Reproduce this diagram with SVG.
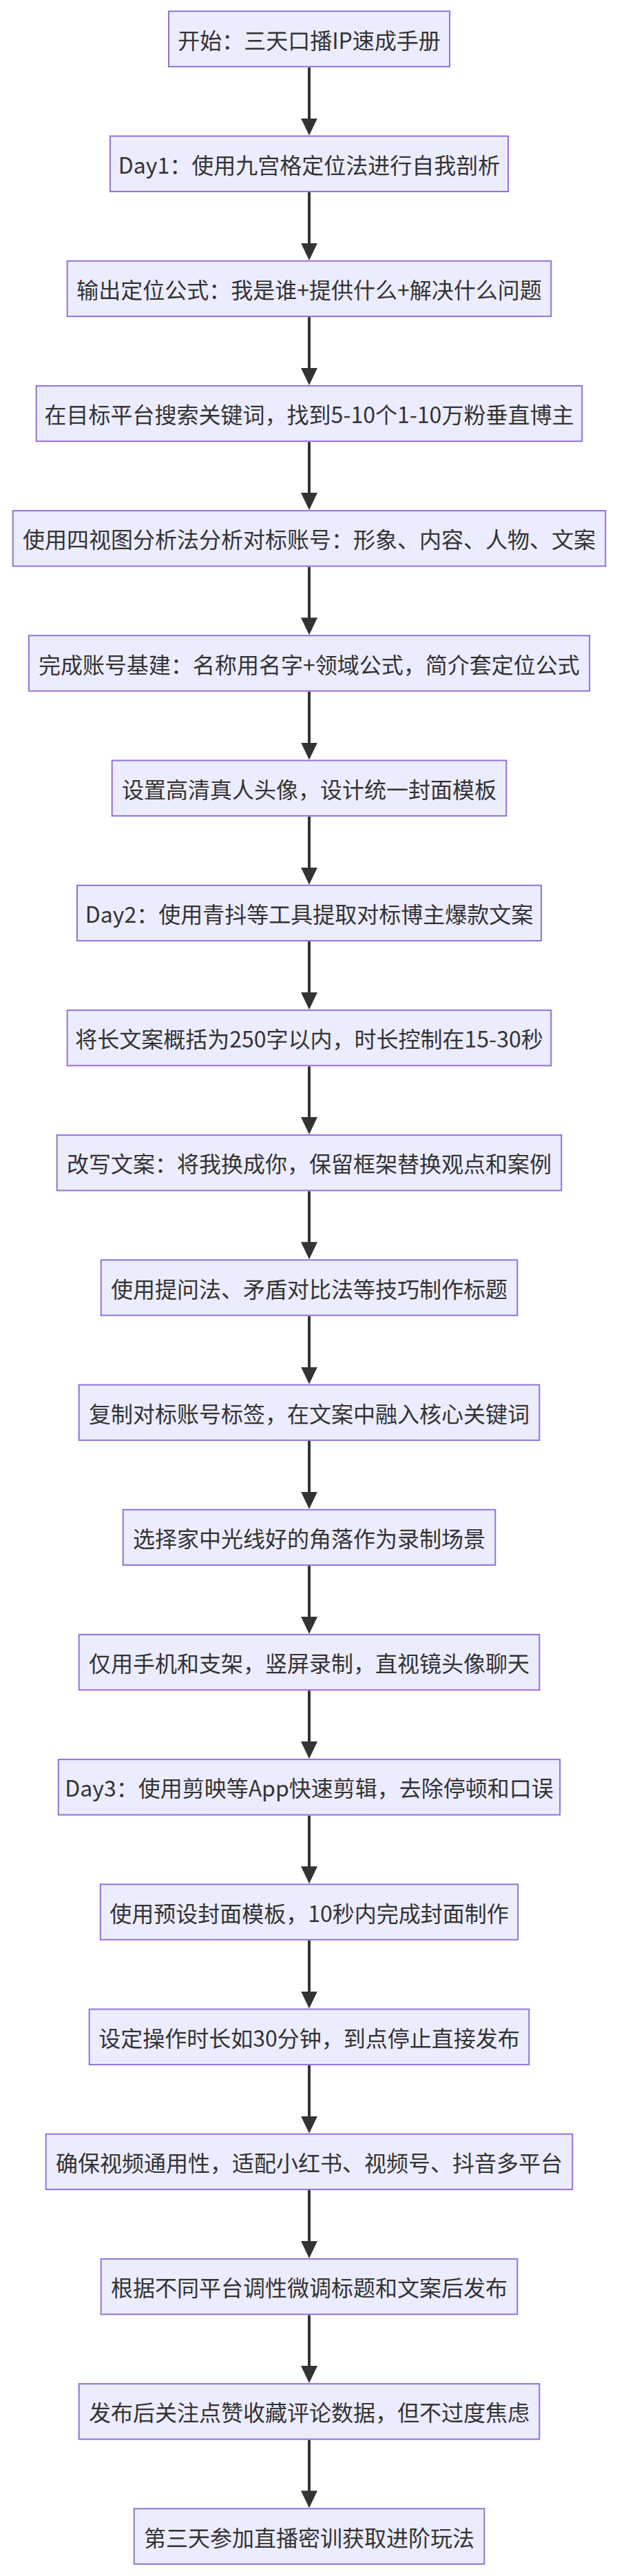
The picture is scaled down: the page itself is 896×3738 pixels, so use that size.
<svg xmlns="http://www.w3.org/2000/svg" width="896" height="3738" viewBox="0 0 896 3738">
<style>
.node rect{fill:#ECECFF;stroke:#9370DB;stroke-width:2}
.node text{font-family:"Noto Sans CJK SC","Noto Sans",sans-serif;font-size:32px;fill:#333333;text-anchor:middle;dominant-baseline:central}
.edges path{fill:none;stroke:#333333;stroke-width:4;marker-end:url(#arrow)}
</style>
<defs>
<marker id="arrow" markerUnits="userSpaceOnUse" viewBox="0 0 25 24" refX="17" refY="12" markerWidth="25" markerHeight="24" orient="auto">
<path d="M0,0 L25,12 L0,24 z" fill="#333333"/>
</marker>
</defs>
<rect width="896" height="3738" fill="#ffffff"/>
<g class="edges">
<path d="M449,97.7 V188.5"/>
<path d="M449,278.9 V369.7"/>
<path d="M449,460.1 V550.9"/>
<path d="M449,641.3 V732.1"/>
<path d="M449,822.5 V913.3"/>
<path d="M449,1003.7 V1094.5"/>
<path d="M449,1184.9 V1275.7"/>
<path d="M449,1366.1 V1456.9"/>
<path d="M449,1547.3 V1638.1"/>
<path d="M449,1728.5 V1819.3"/>
<path d="M449,1909.7 V2000.5"/>
<path d="M449,2090.9 V2181.7"/>
<path d="M449,2272.1 V2362.9"/>
<path d="M449,2453.3 V2544.1"/>
<path d="M449,2634.5 V2725.3"/>
<path d="M449,2815.7 V2906.5"/>
<path d="M449,2996.9 V3087.7"/>
<path d="M449,3178.1 V3268.9"/>
<path d="M449,3359.3 V3450.1"/>
<path d="M449,3540.5 V3631.3"/>
</g>
<g id="n1" class="node"><rect x="245" y="16.3" width="408" height="80.4"/><text x="449" y="56.5">开始：三天口播IP速成手册</text></g>
<g id="n2" class="node"><rect x="160" y="197.5" width="578" height="80.4"/><text x="449" y="237.7">Day1：使用九宫格定位法进行自我剖析</text></g>
<g id="n3" class="node"><rect x="97.7" y="378.7" width="702.6" height="80.4"/><text x="449" y="418.9">输出定位公式：我是谁+提供什么+解决什么问题</text></g>
<g id="n4" class="node"><rect x="52.7" y="559.9" width="792.6" height="80.4"/><text x="449" y="600.1">在目标平台搜索关键词，找到5-10个1-10万粉垂直博主</text></g>
<g id="n5" class="node"><rect x="18.7" y="741.1" width="860.6" height="80.4"/><text x="449" y="781.3">使用四视图分析法分析对标账号：形象、内容、人物、文案</text></g>
<g id="n6" class="node"><rect x="41.85" y="922.3" width="814.3" height="80.4"/><text x="449" y="962.5">完成账号基建：名称用名字+领域公式，简介套定位公式</text></g>
<g id="n7" class="node"><rect x="162.7" y="1103.5" width="572.6" height="80.4"/><text x="449" y="1143.7">设置高清真人头像，设计统一封面模板</text></g>
<g id="n8" class="node"><rect x="112" y="1284.7" width="674" height="80.4"/><text x="449" y="1324.9">Day2：使用青抖等工具提取对标博主爆款文案</text></g>
<g id="n9" class="node"><rect x="97.7" y="1465.9" width="702.6" height="80.4"/><text x="449" y="1506.1">将长文案概括为250字以内，时长控制在15-30秒</text></g>
<g id="n10" class="node"><rect x="82.7" y="1647.1" width="732.6" height="80.4"/><text x="449" y="1687.3">改写文案：将我换成你，保留框架替换观点和案例</text></g>
<g id="n11" class="node"><rect x="146.7" y="1828.3" width="604.6" height="80.4"/><text x="449" y="1868.5">使用提问法、矛盾对比法等技巧制作标题</text></g>
<g id="n12" class="node"><rect x="114.65" y="2009.5" width="668.7" height="80.4"/><text x="449" y="2049.7">复制对标账号标签，在文案中融入核心关键词</text></g>
<g id="n13" class="node"><rect x="178.7" y="2190.7" width="540.6" height="80.4"/><text x="449" y="2230.9">选择家中光线好的角落作为录制场景</text></g>
<g id="n14" class="node"><rect x="114.65" y="2371.9" width="668.7" height="80.4"/><text x="449" y="2412.1">仅用手机和支架，竖屏录制，直视镜头像聊天</text></g>
<g id="n15" class="node"><rect x="84.85" y="2553.1" width="728.3" height="80.4"/><text x="449" y="2593.3">Day3：使用剪映等App快速剪辑，去除停顿和口误</text></g>
<g id="n16" class="node"><rect x="145.85" y="2734.3" width="606.3" height="80.4"/><text x="449" y="2774.5">使用预设封面模板，10秒内完成封面制作</text></g>
<g id="n17" class="node"><rect x="129.7" y="2915.5" width="638.6" height="80.4"/><text x="449" y="2955.7">设定操作时长如30分钟，到点停止直接发布</text></g>
<g id="n18" class="node"><rect x="66.7" y="3096.7" width="764.6" height="80.4"/><text x="449" y="3136.9">确保视频通用性，适配小红书、视频号、抖音多平台</text></g>
<g id="n19" class="node"><rect x="146.7" y="3277.9" width="604.6" height="80.4"/><text x="449" y="3318.1">根据不同平台调性微调标题和文案后发布</text></g>
<g id="n20" class="node"><rect x="114.65" y="3459.1" width="668.7" height="80.4"/><text x="449" y="3499.3">发布后关注点赞收藏评论数据，但不过度焦虑</text></g>
<g id="n21" class="node"><rect x="194.7" y="3640.3" width="508.6" height="80.4"/><text x="449" y="3680.5">第三天参加直播密训获取进阶玩法</text></g>
</svg>
